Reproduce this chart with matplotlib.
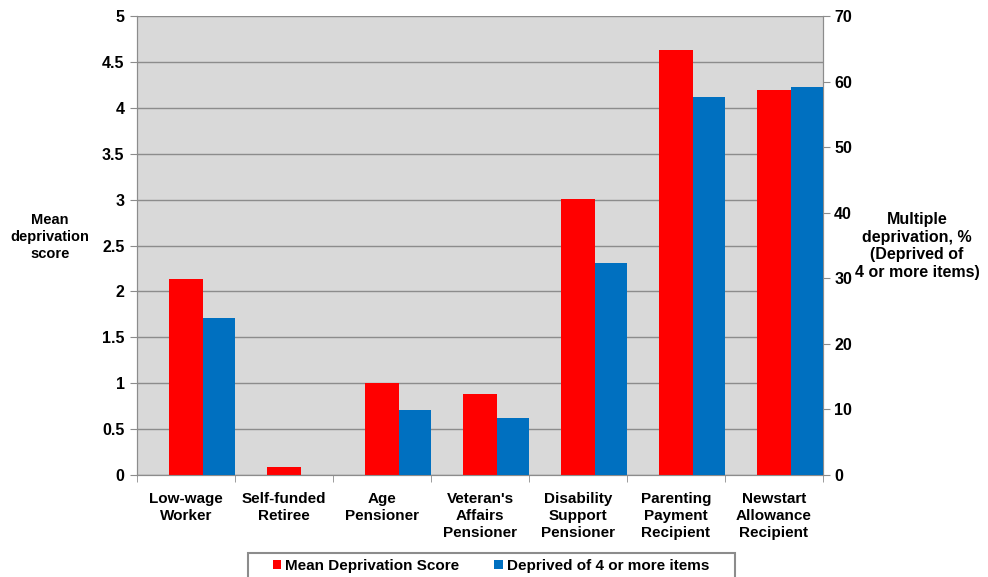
import numpy as np
import matplotlib.pyplot as plt
from matplotlib.patches import Rectangle

plt.rcParams['font.family'] = ['Liberation Sans', 'DejaVu Sans']
plt.rcParams['font.weight'] = 'bold'

categories = ["Low-wage\nWorker", "Self-funded\nRetiree", "Age\nPensioner",
              "Veteran's\nAffairs\nPensioner", "Disability\nSupport\nPensioner",
              "Parenting\nPayment\nRecipient", "Newstart\nAllowance\nRecipient"]
mean_score = [2.14, 0.09, 1.0, 0.88, 3.01, 4.63, 4.19]
deprived_pct = [23.9, 0.0, 9.9, 8.7, 32.4, 57.7, 59.1]

red = '#ff0000'
blue = '#0070c0'
grey = '#8c8c8c'

W, H = 988, 577
fig = plt.figure(figsize=(W / 100, H / 100), dpi=100)
ax = fig.add_axes([137/W, 1-475/H, 686/W, 459/H])
ax2 = ax.twinx()

x = np.arange(len(categories))
ax.bar(x, mean_score, width=0.35, color=red, zorder=3, label='Mean Deprivation Score')
ax2.bar(x + 0.335, deprived_pct, width=0.33, color=blue, zorder=3,
        label='Deprived of 4 or more items')

ax.set_facecolor('#d9d9d9')
ax.set_xlim(-0.5, len(categories) - 0.5)
ax.set_ylim(0, 5)
ax2.set_ylim(0, 70)
ax.set_yticks(np.arange(0, 5.01, 0.5))
ax.set_yticklabels(['0', '0.5', '1', '1.5', '2', '2.5', '3', '3.5', '4', '4.5', '5'])
ax2.set_yticks(np.arange(0, 71, 10))
ax.yaxis.grid(True, color=grey, linewidth=1.0, zorder=0)
ax.set_axisbelow(True)

# category labels centred, ticks on the boundaries
ax.set_xticks(x)
ax.set_xticklabels(categories, fontsize=11, fontweight='bold', linespacing=1.27)
ax.tick_params(axis='x', length=0, pad=12)
ax.set_xticks(np.arange(-0.5, len(categories)), minor=True)
ax.tick_params(axis='x', which='minor', length=5, color=grey, direction='out')

ax.tick_params(axis='y', labelsize=11.5, length=5, color=grey, pad=4)
ax2.tick_params(axis='y', labelsize=11.5, length=5, color=grey, pad=3)

for a in (ax, ax2):
    a.spines['top'].set_visible(False)
    for side in ('left', 'right', 'bottom'):
        a.spines[side].set_color(grey)

fig.text(50/W, 1-237/H, "Mean\ndeprivation\nscore", ha='center', va='center',
         fontsize=10.5, fontweight='bold', linespacing=1.3)
fig.text(917/W, 1-246/H, "Multiple\ndeprivation, %\n(Deprived of\n4 or more items)",
         ha='center', va='center', fontsize=11.5, fontweight='bold', linespacing=1.22)

h1, l1 = ax.get_legend_handles_labels()
h2, l2 = ax2.get_legend_handles_labels()
leg = fig.legend(h1 + h2, l1 + l2, loc='upper center', bbox_to_anchor=(491/W, 1-555/H),
                 ncol=2, frameon=False, fontsize=11, handlelength=0.55,
                 handleheight=0.55, handletextpad=0.25, columnspacing=2.3,
                 borderpad=0.25, borderaxespad=0)

# legend box runs past the bottom edge
fig.patches.append(Rectangle((248/W, -0.02), (735-248)/W, 0.02 + 1-553/H,
                             transform=fig.transFigure, fill=False,
                             edgecolor=grey, linewidth=1.5))

fig.savefig('out.png', dpi=100)
